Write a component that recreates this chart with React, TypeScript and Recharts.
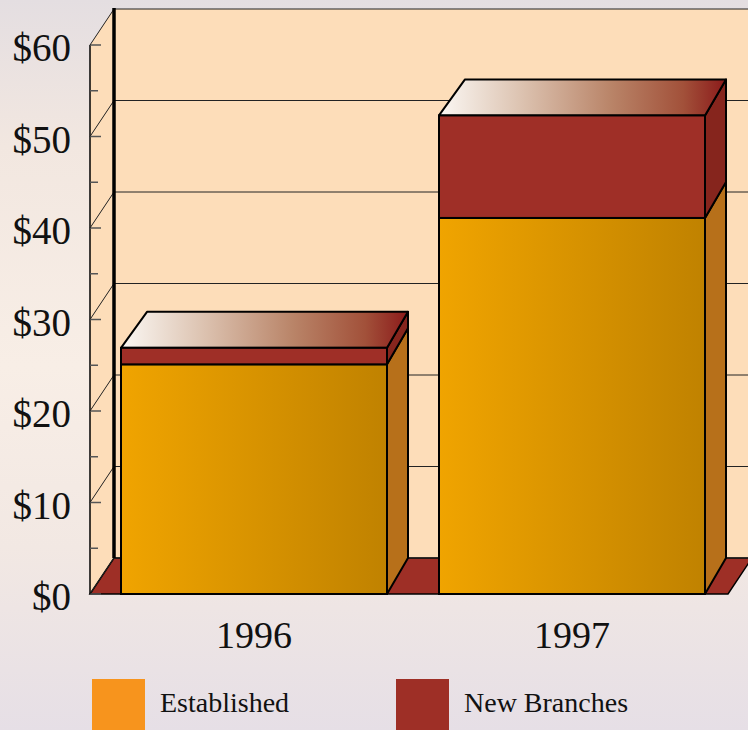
import React from 'react';
import { BarChart, Bar, XAxis, YAxis } from 'recharts';

const categories = ['1996', '1997'];
const established = [25.1, 41.1];
const newBranches = [1.8, 11.2];
const yTicks = [0, 5, 10, 15, 20, 25, 30, 35, 40, 45, 50, 55, 60];
const seriesNames = ['Established', 'New Branches'];
const legendColors = ['#F7941D', '#9E2F26'];

const data = categories.map((year, i) => ({
  year,
  established: established[i],
  newBranches: newBranches[i],
}));

const W = 748;
const H = 730;
const FONT = '"Liberation Serif", "DejaVu Serif", serif';

// oblique depth of the box
const WALL_X = 90;
const DEPTH_X = 24;
const DEPTH_Y = 36;
const DX_L = 26;
const DX_R = 21;
const DY = 36;

const PEACH = '#FDDDB9';

function YTick(props: any) {
  const { y, payload } = props;
  const v = payload.value;
  const major = v % 10 === 0;
  return (
    <g>
      <line x1={WALL_X} y1={y} x2={WALL_X + (major ? 11 : 8)} y2={y} stroke="#555" strokeWidth={1.5} />
      {major && (
        <>
          <line x1={WALL_X} y1={y} x2={WALL_X + DEPTH_X} y2={y - DEPTH_Y} stroke="#222" strokeWidth={1} />
          <line x1={WALL_X + DEPTH_X} y1={y - DEPTH_Y} x2={W} y2={y - DEPTH_Y} stroke="#222" strokeWidth={1} />
          <text x={71} y={y + 16} textAnchor="end" fontSize={39} fontFamily={FONT} fill="#111">
            ${v}
          </text>
        </>
      )}
    </g>
  );
}

function XTick(props: any) {
  const { x, y, payload } = props;
  return (
    <text x={x} y={y + 52} textAnchor="middle" fontSize={38} fontFamily={FONT} fill="#111">
      {payload.value}
    </text>
  );
}

function EstablishedShape(props: any) {
  const { x, y, width: w, height: h } = props;
  return (
    <g>
      <polygon
        points={`${x + w},${y} ${x + w + DX_R},${y - DY} ${x + w + DX_R},${y + h - DY} ${x + w},${y + h}`}
        fill="#B7701A"
        stroke="#000"
        strokeWidth={2}
        strokeLinejoin="round"
      />
      <rect x={x} y={y} width={w} height={h} fill="url(#estFront)" stroke="#000" strokeWidth={2} />
    </g>
  );
}

function NewBranchShape(props: any) {
  const { x, y, width: w, height: h } = props;
  return (
    <g>
      <polygon
        points={`${x + w},${y} ${x + w + DX_R},${y - DY} ${x + w + DX_R},${y + h - DY} ${x + w},${y + h}`}
        fill="#86251D"
        stroke="#000"
        strokeWidth={2}
        strokeLinejoin="round"
      />
      <polygon
        points={`${x},${y} ${x + DX_L},${y - DY} ${x + w + DX_R},${y - DY} ${x + w},${y}`}
        fill="url(#topFace)"
        stroke="#000"
        strokeWidth={2}
        strokeLinejoin="round"
      />
      <rect x={x} y={y} width={w} height={h} fill="#9F2F27" stroke="#000" strokeWidth={2} />
    </g>
  );
}

const Nothing = () => null;

export default function App() {
  return (
    <div
      style={{
        position: 'absolute',
        left: 0,
        top: 0,
        width: W,
        height: H,
        overflow: 'hidden',
        background:
          'linear-gradient(180deg, #E4DEE1 0%, #F2E7E0 20%, #F8EEE6 50%, #F2E8E3 75%, #E6DFE6 100%)',
      }}
    >
      {/* back wall, side wall, floor, grid and value axis */}
      <div style={{ position: 'absolute', left: 0, top: 0 }}>
        <BarChart width={W} height={H} data={data} margin={{ top: 45, right: 17, bottom: 136, left: 0 }}>
          <g>
            <rect x={WALL_X + DEPTH_X} y={9} width={W - WALL_X - DEPTH_X} height={549} fill={PEACH} />
            <polygon points={`${WALL_X},45 ${WALL_X + DEPTH_X},9 ${WALL_X + DEPTH_X},558 ${WALL_X},594`} fill={PEACH} />
            <line x1={WALL_X} y1={45} x2={WALL_X} y2={594} stroke="#000" strokeWidth={1.5} />
            <polygon
              points={`${WALL_X},594 ${WALL_X + DEPTH_X},558 ${W + 4},558 ${W - 20},594`}
              fill="#9E2F26"
              stroke="#000"
              strokeWidth={1.5}
            />
          </g>
          <XAxis dataKey="year" hide />
          <YAxis
            width={95}
            domain={[0, 60]}
            ticks={yTicks}
            interval={0}
            axisLine={false}
            tickLine={false}
            tick={(p: any) => <YTick {...p} />}
          />
          <Bar dataKey="established" stackId="bg" shape={Nothing} isAnimationActive={false} />
          <Bar dataKey="newBranches" stackId="bg" shape={Nothing} isAnimationActive={false} />
        </BarChart>
        <svg width={W} height={H} style={{ position: 'absolute', left: 0, top: 0, pointerEvents: 'none' }}>
          <line x1={WALL_X + DEPTH_X} y1={8} x2={WALL_X + DEPTH_X} y2={558} stroke="#000" strokeWidth={3.5} />
        </svg>
      </div>

      {/* bars */}
      <div style={{ position: 'absolute', left: 0, top: 0 }}>
        <BarChart width={W} height={H} data={data} margin={{ top: 45, right: 17, bottom: 76, left: 95 }}>
          <defs>
            <linearGradient id="estFront" x1="0" y1="0" x2="1" y2="0">
              <stop offset="0%" stopColor="#F0A400" />
              <stop offset="100%" stopColor="#C08200" />
            </linearGradient>
            <linearGradient id="topFace" x1="0" y1="0" x2="1" y2="0">
              <stop offset="0%" stopColor="#FBF8F4" />
              <stop offset="28%" stopColor="#DDC4B2" />
              <stop offset="60%" stopColor="#B98468" />
              <stop offset="85%" stopColor="#A2513A" />
              <stop offset="100%" stopColor="#8B1A1A" />
            </linearGradient>
          </defs>
          <XAxis dataKey="year" height={60} axisLine={false} tickLine={false} tickSize={0} tick={<XTick />} />
          <YAxis hide domain={[0, 60]} ticks={yTicks} />
          <Bar
            dataKey="established"
            name={seriesNames[0]}
            stackId="a"
            fill={legendColors[0]}
            barSize={266}
            shape={<EstablishedShape />}
            isAnimationActive={false}
          />
          <Bar
            dataKey="newBranches"
            name={seriesNames[1]}
            stackId="a"
            fill={legendColors[1]}
            barSize={266}
            shape={<NewBranchShape />}
            isAnimationActive={false}
          />
        </BarChart>
      </div>

      {/* legend */}
      {seriesNames.map((name, i) => (
        <div
          key={name}
          style={{ position: 'absolute', left: 92 + i * 304, top: 679, display: 'flex', alignItems: 'flex-start' }}
        >
          <div style={{ width: 53, height: 53, background: legendColors[i] }} />
          <span
            style={{
              marginLeft: 15,
              marginTop: 6,
              fontFamily: FONT,
              fontSize: 28,
              color: '#111',
              lineHeight: '36px',
            }}
          >
            {name}
          </span>
        </div>
      ))}
    </div>
  );
}
